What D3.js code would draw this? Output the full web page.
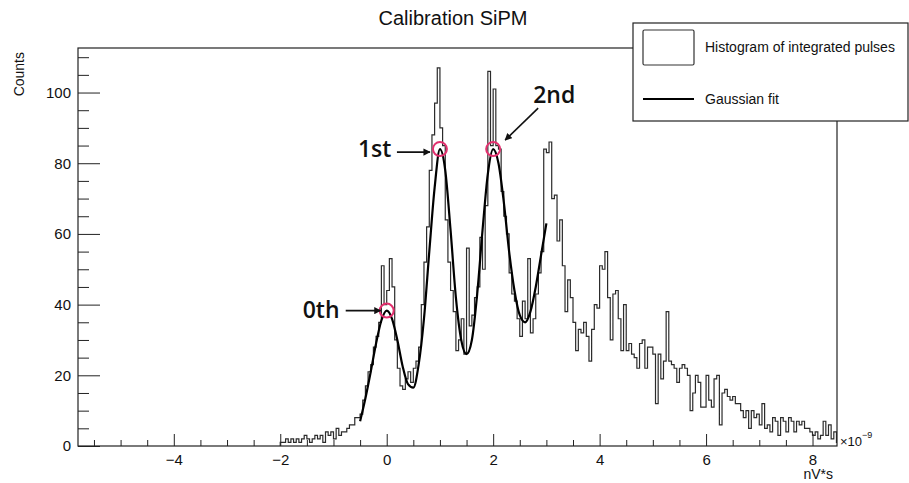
<!DOCTYPE html>
<html>
<head>
<meta charset="utf-8">
<script src="https://cdn.jsdelivr.net/npm/d3@7"></script>
<style>
    body { margin: 0; background: #fff; }
    text { font-family: "Liberation Sans", Arial, Helvetica, sans-serif; fill: #111; }
</style>
</head>
<body>
<div id="chart"></div>
<script>

// histogram of integrated pulses (units of 1e-9 nV*s), fixed bin width
const binStart = -2.0;
const binWidth = 0.05;
const counts = [
    1, 1, 2, 1, 2, 1, 2, 1, 2, 3, 2, 1, 2, 3, 2, 3, 1, 4, 3, 4,
    2, 5, 3, 4, 4, 5, 6, 6, 8, 8, 9, 13, 17, 21, 23, 28, 31, 35, 51, 40,
    44, 53, 45, 30, 22, 17, 16, 19, 21, 18, 22, 24, 28, 40, 52, 62, 78, 88, 97, 107,
    90, 85, 64, 52, 44, 38, 27, 30, 36, 26, 56, 34, 37, 42, 45, 59, 50, 68, 106, 85,
    101, 85, 84, 72, 65, 60, 49, 43, 41, 36, 31, 41, 36, 53, 32, 36, 43, 49, 55, 84,
    83, 86, 70, 71, 58, 64, 51, 38, 47, 42, 35, 27, 33, 32, 35, 31, 24, 33, 40, 39,
    51, 50, 55, 42, 30, 43, 44, 36, 27, 40, 27, 29, 26, 25, 22, 29, 30, 22, 28, 28,
    26, 12, 26, 19, 24, 38, 24, 23, 22, 18, 22, 23, 22, 20, 10, 15, 20, 18, 11, 11,
    20, 13, 11, 19, 20, 6, 15, 16, 14, 13, 14, 12, 12, 10, 8, 10, 5, 10, 8, 9,
    6, 12, 5, 6, 4, 8, 7, 3, 8, 7, 4, 8, 7, 4, 7, 6, 7, 5, 5, 4,
    3, 4, 2, 3, 7, 3, 6, 2, 4, 1
];

// gaussian fit curve
const fitX = [-0.5, -0.4, -0.3, -0.2, -0.1, 0.0, 0.1, 0.2, 0.3, 0.4, 0.5, 0.6,
    0.7, 0.8, 0.9, 1.0, 1.1, 1.2, 1.3, 1.4, 1.5, 1.6, 1.7, 1.8, 1.9, 2.0,
    2.1, 2.2, 2.3, 2.4, 2.5, 2.6, 2.7, 2.8, 2.9, 3.0];
const fitY = [7, 13.5, 21, 29, 35.5, 38.3, 36, 30, 22.5, 17.5, 16.5, 23,
    36, 55, 73, 84, 78, 61, 42, 30, 26, 30, 43, 61, 77, 84,
    80, 69, 55, 44, 37, 35, 38, 45, 54, 63];

// peaks marked on the plot
const peakNames = ["0th", "1st", "2nd"];
const peakX = [0, 1, 2];
const peakY = [38.3, 84, 84];

const xTicks = [-4, -2, 0, 2, 4, 6, 8];
const yTicks = [0, 20, 40, 60, 80, 100];
const legendLabels = ["Histogram of integrated pulses", "Gaussian fit"];

class sipmChart {

    constructor(parentElement) {
        this.parentElement = parentElement;
        this.initVis();
    }

    initVis() {
        let vis = this;

        vis.width = 909;
        vis.height = 483;
        vis.frame = {left: 78, right: 837, top: 48, bottom: 446};

        vis.svg = d3.select("#" + vis.parentElement).append("svg")
            .attr("width", vis.width)
            .attr("height", vis.height);

        vis.x = d3.scaleLinear().domain([-5.8, 8.46]).range([vis.frame.left, vis.frame.right]);
        vis.y = d3.scaleLinear().domain([0, 112.6]).range([vis.frame.bottom, vis.frame.top]);

        vis.svg.append("defs").append("clipPath").attr("id", "plot-clip")
            .append("rect")
            .attr("x", vis.frame.left).attr("y", vis.frame.top)
            .attr("width", vis.frame.right - vis.frame.left)
            .attr("height", vis.frame.bottom - vis.frame.top);

        vis.svg.select("defs").append("marker")
            .attr("id", "arrow")
            .attr("viewBox", "0 0 10 10")
            .attr("refX", 9).attr("refY", 5)
            .attr("markerWidth", 4.5).attr("markerHeight", 4.5)
            .attr("orient", "auto")
            .append("path")
            .attr("d", "M0,0 L10,5 L0,10 z")
            .attr("fill", "#111");

        vis.updateVis();
    }

    updateVis() {
        let vis = this;

        // axes with inward ticks (root style)
        let xMinor = d3.range(-5.5, 8.5, 0.5).filter(v => xTicks.indexOf(v) < 0);
        let yMinor = d3.range(5, 112, 5).filter(v => yTicks.indexOf(v) < 0);

        vis.svg.append("g")
            .attr("transform", `translate(0, ${vis.frame.bottom})`)
            .call(d3.axisBottom(vis.x).tickValues(xMinor).tickSizeInner(-6).tickSizeOuter(0).tickFormat(""))
            .call(g => g.select(".domain").remove())
            .selectAll("line").attr("stroke", "#222");

        vis.svg.append("g")
            .attr("class", "x-axis")
            .attr("transform", `translate(0, ${vis.frame.bottom})`)
            .call(d3.axisBottom(vis.x).tickValues(xTicks).tickSizeInner(-12).tickSizeOuter(0).tickPadding(8))
            .call(g => g.select(".domain").remove());

        vis.svg.append("g")
            .attr("transform", `translate(${vis.frame.left}, 0)`)
            .call(d3.axisLeft(vis.y).tickValues(yMinor).tickSizeInner(-11).tickSizeOuter(0).tickFormat(""))
            .call(g => g.select(".domain").remove())
            .selectAll("line").attr("stroke", "#222");

        vis.svg.append("g")
            .attr("class", "y-axis")
            .attr("transform", `translate(${vis.frame.left}, 0)`)
            .call(d3.axisLeft(vis.y).tickValues(yTicks).tickSizeInner(-22).tickSizeOuter(0).tickPadding(7))
            .call(g => g.select(".domain").remove());

        vis.svg.selectAll(".x-axis, .y-axis")
            .attr("font-family", null).attr("font-size", null);
        vis.svg.selectAll(".x-axis text, .y-axis text")
            .style("font-size", "15px").attr("fill", "#111");
        vis.svg.selectAll(".x-axis line, .y-axis line").attr("stroke", "#222");

        // histogram outline as steps
        let steps = [[vis.x(binStart), vis.y(0)]];
        counts.forEach((c, i) => {
            let lo = binStart + i * binWidth;
            steps.push([vis.x(lo), vis.y(c)]);
            steps.push([vis.x(lo + binWidth), vis.y(c)]);
        });
        steps.push([vis.x(binStart + counts.length * binWidth), vis.y(0)]);

        vis.svg.append("path")
            .attr("clip-path", "url(#plot-clip)")
            .attr("d", d3.line()(steps))
            .attr("fill", "none")
            .attr("stroke", "#2b2b2b")
            .attr("stroke-width", 1.2);

        // fit line
        vis.svg.append("path")
            .datum(fitX.map((v, i) => [v, fitY[i]]))
            .attr("d", d3.line().x(d => vis.x(d[0])).y(d => vis.y(d[1])).curve(d3.curveMonotoneX))
            .attr("fill", "none")
            .attr("stroke", "#000")
            .attr("stroke-width", 2.2);

        // frame
        vis.svg.append("rect")
            .attr("x", vis.frame.left).attr("y", vis.frame.top)
            .attr("width", vis.frame.right - vis.frame.left)
            .attr("height", vis.frame.bottom - vis.frame.top)
            .attr("fill", "none")
            .attr("stroke", "#222")
            .attr("stroke-width", 1.2);

        // peak markers + annotations
        let labelOffset = [
            {tx: -84, ty: 7, x1: -41, y1: 0, x2: -6, y2: 0},
            {tx: -82, ty: 8, x1: -43, y1: 3, x2: -10, y2: 3},
            {tx: 40, ty: -46, x1: 45, y1: -41, x2: 12, y2: -9}
        ];
        peakNames.forEach((name, i) => {
            let cx = vis.x(peakX[i]);
            let cy = vis.y(peakY[i]);
            let o = labelOffset[i];

            vis.svg.append("circle")
                .attr("cx", cx).attr("cy", cy).attr("r", 7)
                .attr("fill", "none")
                .attr("stroke", "#e3316f")
                .attr("stroke-width", 2);

            vis.svg.append("line")
                .attr("x1", cx + o.x1).attr("y1", cy + o.y1)
                .attr("x2", cx + o.x2).attr("y2", cy + o.y2)
                .attr("stroke", "#111")
                .attr("stroke-width", 1.6)
                .attr("marker-end", "url(#arrow)");

            vis.svg.append("text")
                .attr("x", cx + o.tx).attr("y", cy + o.ty)
                .style("font-family", "'Open Sans', 'Noto Sans', sans-serif")
                .style("font-size", "23px")
                .style("font-weight", 600)
                .text(name);
        });

        // titles
        vis.svg.append("text")
            .attr("x", 453).attr("y", 25)
            .attr("text-anchor", "middle")
            .style("font-size", "20px")
            .text("Calibration SiPM");

        vis.svg.append("text")
            .attr("transform", `translate(24, ${vis.frame.top + 4}) rotate(-90)`)
            .attr("text-anchor", "end")
            .style("font-size", "14px")
            .text("Counts");

        vis.svg.append("text")
            .attr("x", vis.frame.right - 4).attr("y", 479)
            .attr("text-anchor", "end")
            .style("font-size", "14px")
            .text("nV*s");

        let expo = vis.svg.append("text")
            .attr("x", vis.frame.right + 3).attr("y", 446)
            .style("font-size", "13px");
        expo.append("tspan").text("\u00d710");
        expo.append("tspan").attr("dy", -8).style("font-size", "9px").text("\u22129");

        // legend
        let legend = vis.svg.append("g");
        legend.append("rect")
            .attr("x", 633).attr("y", 23)
            .attr("width", 275).attr("height", 98)
            .attr("fill", "#fff")
            .attr("stroke", "#222")
            .attr("stroke-width", 1.2);

        legend.append("rect")
            .attr("x", 643).attr("y", 30)
            .attr("width", 51).attr("height", 35)
            .attr("rx", 1.5)
            .attr("fill", "none")
            .attr("stroke", "#333")
            .attr("stroke-width", 1.2);

        legend.append("line")
            .attr("x1", 643).attr("x2", 694)
            .attr("y1", 99).attr("y2", 99)
            .attr("stroke", "#000")
            .attr("stroke-width", 2);

        legend.selectAll(".legend-label")
            .data(legendLabels)
            .enter()
            .append("text")
            .attr("class", "legend-label")
            .attr("x", 705)
            .attr("y", (d, i) => i === 0 ? 52 : 104)
            .style("font-size", "14px")
            .text(d => d);
    }
}

new sipmChart("chart");
</script>
</body>
</html>
